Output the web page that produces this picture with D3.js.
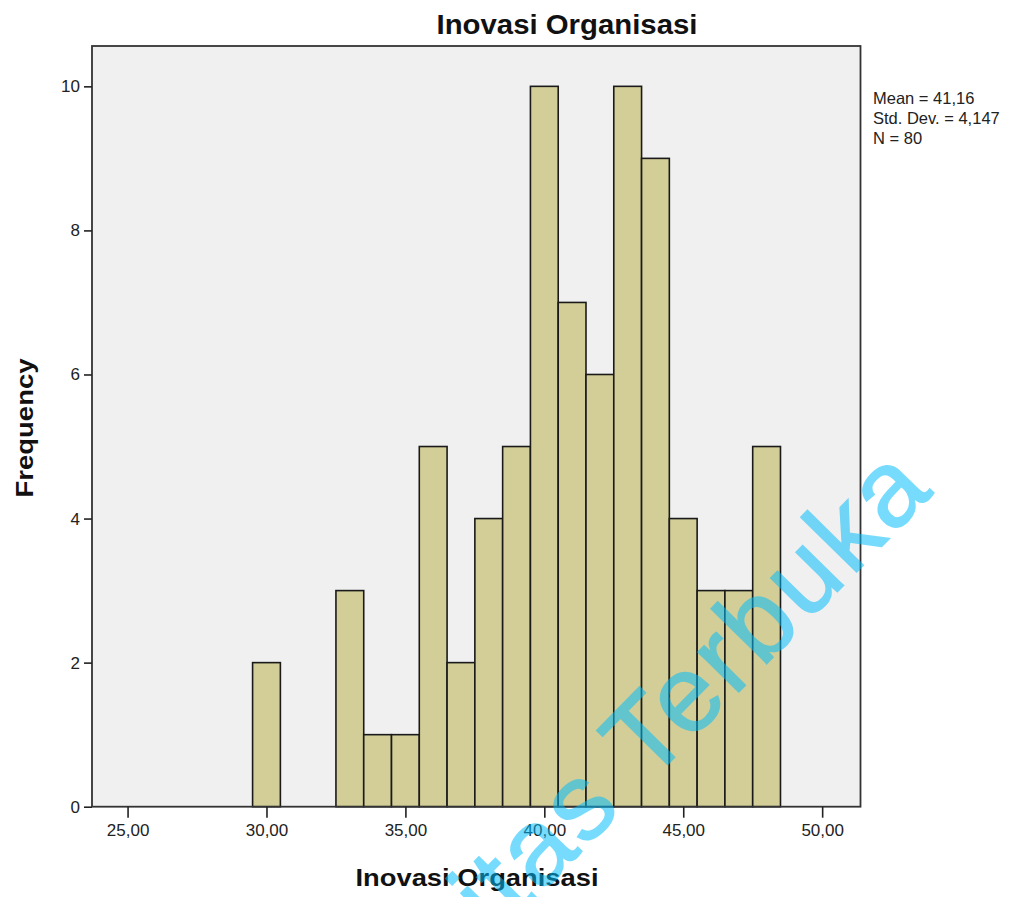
<!DOCTYPE html>
<html>
<head>
<meta charset="utf-8">
<script src="https://cdn.jsdelivr.net/npm/d3@7"></script>
<style>
html,body{margin:0;padding:0;background:#fff;}
svg{display:block;}
text{font-family:"Liberation Sans",Arial,sans-serif;}
</style>
</head>
<body>
<svg id="chart" width="1034" height="897"></svg>
<script>
// ---- data ----
const binCenters = [30, 33, 34, 35, 36, 37, 38, 39, 40, 41, 42, 43, 44, 45, 46, 47, 48];
const frequencies = [2, 3, 1, 1, 5, 2, 4, 5, 10, 7, 6, 10, 9, 4, 3, 3, 5];
const binWidth = 1;
const xTicks = [25, 30, 35, 40, 45, 50];
const yTicks = [0, 2, 4, 6, 8, 10];
const statsLines = ["Mean = 41,16", "Std. Dev. = 4,147", "N = 80"];
const titleText = "Inovasi Organisasi";
const xLabel = "Inovasi Organisasi";
const yLabel = "Frequency";
const watermark = "Universitas Terbuka";

// ---- layout ----
const svg = d3.select("#chart");
const plot = {left: 92, right: 860.5, top: 46, bottom: 806.7};
const x = d3.scaleLinear().domain([23.72, 51.38]).range([plot.left, plot.right]);
const y = d3.scaleLinear().domain([0, 10.56]).range([plot.bottom, plot.top]);
const fmt = d => d3.format(".2f")(d).replace(".", ",");

// plot background
svg.append("rect")
  .attr("x", plot.left).attr("y", plot.top)
  .attr("width", plot.right - plot.left).attr("height", plot.bottom - plot.top)
  .attr("fill", "#f0f0f0");

// bars
svg.append("g").selectAll("rect")
  .data(binCenters.map((c, i) => ({c, f: frequencies[i]})))
  .join("rect")
  .attr("x", d => x(d.c - binWidth / 2))
  .attr("width", d => x(d.c + binWidth / 2) - x(d.c - binWidth / 2))
  .attr("y", d => y(d.f))
  .attr("height", d => y(0) - y(d.f))
  .attr("fill", "#d3ce97")
  .attr("stroke", "#1a1a1a")
  .attr("stroke-width", 1.6);

// plot frame
svg.append("rect")
  .attr("x", plot.left).attr("y", plot.top)
  .attr("width", plot.right - plot.left).attr("height", plot.bottom - plot.top)
  .attr("fill", "none").attr("stroke", "#333").attr("stroke-width", 1.8);

// x axis
const xAxis = d3.axisBottom(x).tickValues(xTicks).tickFormat(fmt).tickSize(11).tickPadding(6);
const gx = svg.append("g").attr("transform", `translate(0,${plot.bottom})`).call(xAxis);
gx.select(".domain").remove();
gx.selectAll(".tick line").attr("stroke", "#222").attr("stroke-width", 1.6);
gx.selectAll(".tick text").attr("font-size", 17).attr("fill", "#222")
  .attr("font-family", "'Liberation Sans',Arial,sans-serif");

// y axis
const yAxis = d3.axisLeft(y).tickValues(yTicks).tickFormat(d3.format("d")).tickSize(8).tickPadding(4);
const gy = svg.append("g").attr("transform", `translate(${plot.left},0)`).call(yAxis);
gy.select(".domain").remove();
gy.selectAll(".tick line").attr("stroke", "#222").attr("stroke-width", 1.6);
gy.selectAll(".tick text").attr("font-size", 17).attr("fill", "#222")
  .attr("font-family", "'Liberation Sans',Arial,sans-serif");

// title
svg.append("text")
  .attr("x", 567).attr("y", 34)
  .attr("text-anchor", "middle")
  .attr("font-size", 27).attr("font-weight", "bold").attr("fill", "#111")
  .attr("textLength", 261).attr("lengthAdjust", "spacingAndGlyphs")
  .text(titleText);

// x label
svg.append("text")
  .attr("x", 477).attr("y", 886)
  .attr("text-anchor", "middle")
  .attr("font-size", 24).attr("font-weight", "bold").attr("fill", "#111")
  .attr("textLength", 243).attr("lengthAdjust", "spacingAndGlyphs")
  .text(xLabel);

// y label
svg.append("text")
  .attr("transform", "translate(33,428) rotate(-90)")
  .attr("text-anchor", "middle")
  .attr("font-size", 24).attr("font-weight", "bold").attr("fill", "#111")
  .attr("textLength", 139).attr("lengthAdjust", "spacingAndGlyphs")
  .text(yLabel);

// stats
svg.append("g").selectAll("text")
  .data(statsLines)
  .join("text")
  .attr("x", 873)
  .attr("y", (d, i) => 104 + i * 20)
  .attr("font-size", 16.5).attr("fill", "#222")
  .text(d => d);

// watermark (rotated, translucent)
const wmSize = 108, wmAngle = -45.5;
const wm = svg.append("text")
  .attr("font-family", "'DejaVu Sans',sans-serif")
  .attr("font-size", wmSize)
  .attr("letter-spacing", 4)
  .attr("fill", "rgb(0,189,253)")
  .attr("stroke", "rgb(0,189,253)").attr("stroke-width", 1.5)
  .attr("opacity", 0.53)
  .text(watermark);
const tIdx = watermark.indexOf("T");
const pre = wm.node().getSubStringLength(0, tIdx);
const tW = wm.node().getSubStringLength(tIdx, 1);
const along = pre + (tW - 4) / 2;
const rad = wmAngle * Math.PI / 180;
const footX = 667, footY = 765;
wm.attr("transform", `translate(${footX - along * Math.cos(rad)},${footY - along * Math.sin(rad)}) rotate(${wmAngle})`);
</script>
</body>
</html>
